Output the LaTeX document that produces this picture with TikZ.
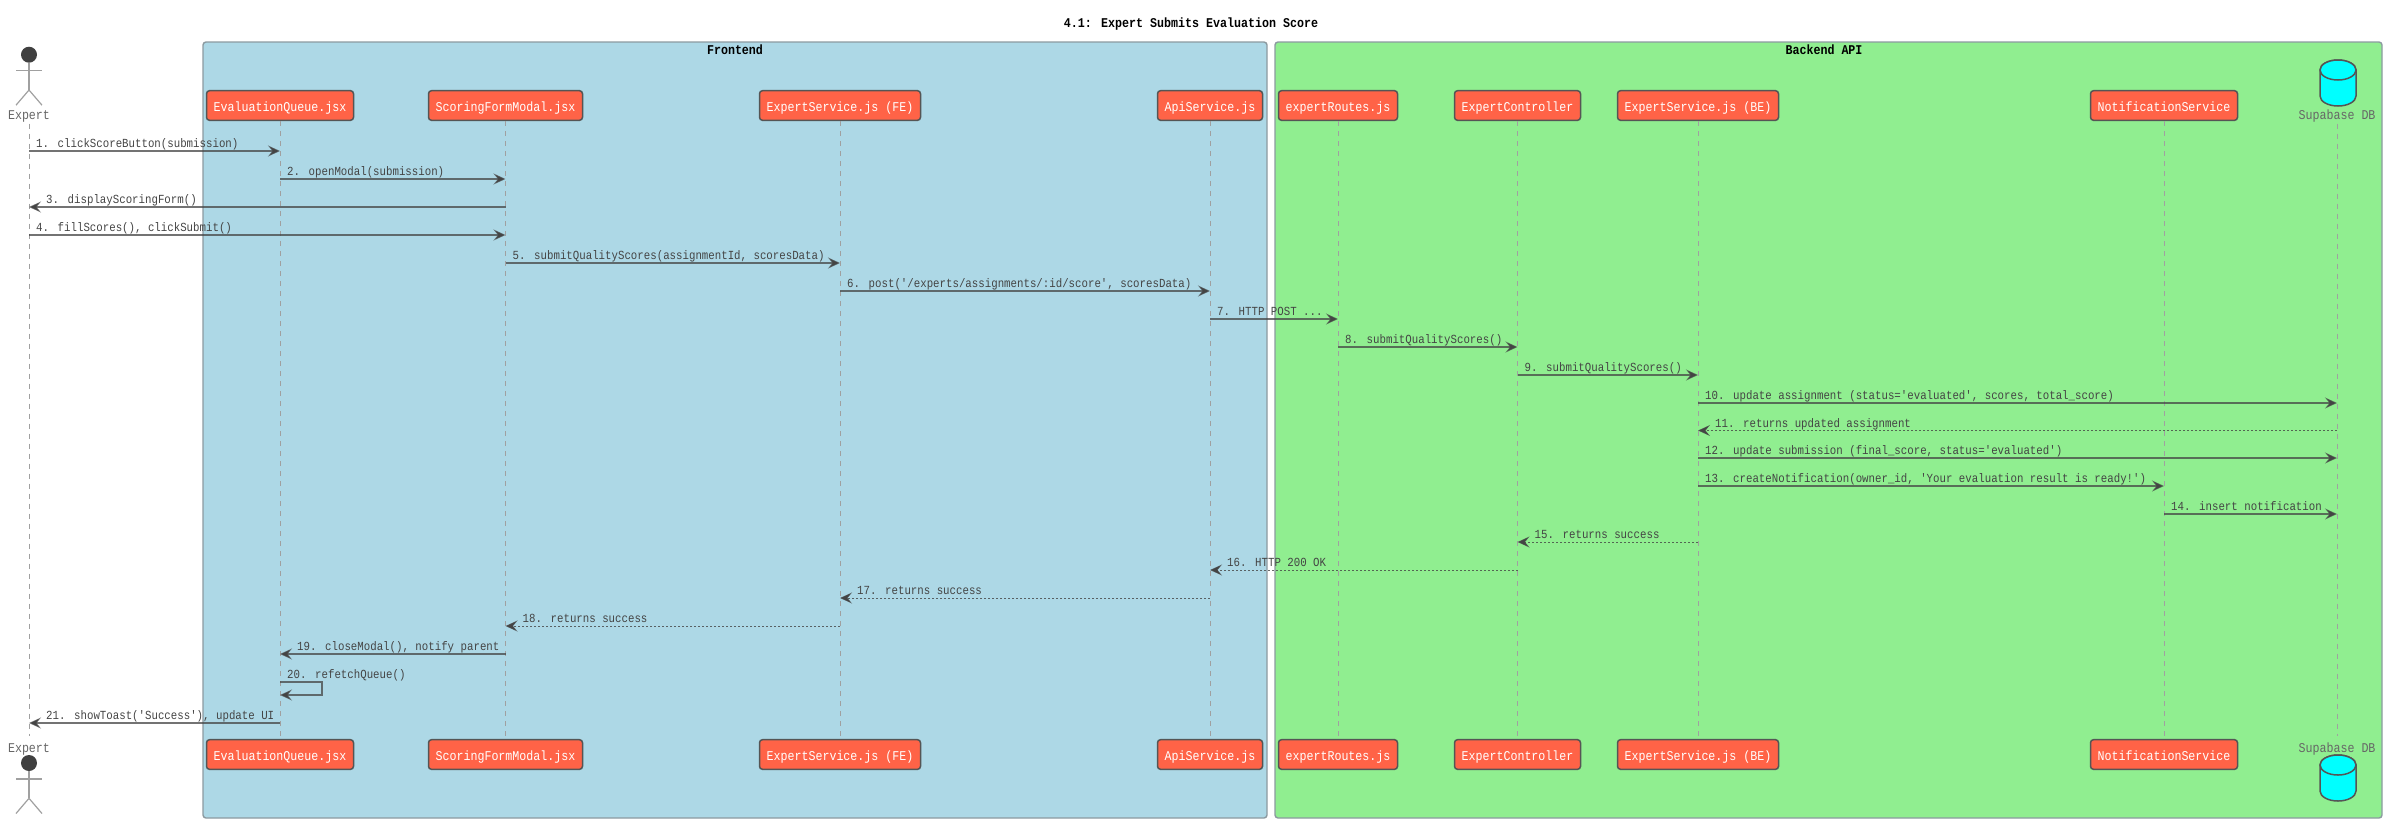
\documentclass[tikz,border=0pt]{standalone}
\usepackage{fontspec}
\usetikzlibrary{arrows.meta,calc}
\newfontfamily\partfont[FakeStretch=0.87]{Liberation Mono}
\definecolor{frontfill}{HTML}{ADD8E6}
\definecolor{backfill}{HTML}{90EE90}
\definecolor{tomatofill}{HTML}{FF6347}
\definecolor{cyanfill}{HTML}{00FFFF}
\definecolor{edgedark}{HTML}{555555}
\definecolor{framegray}{HTML}{8C9AA0}
\definecolor{lifegray}{HTML}{A0A0A0}
\definecolor{msgink}{HTML}{444444}
\tikzset{
  frameBox/.style={draw=framegray,line width=1.4pt,rounded corners=3pt},
  partBox/.style={draw=edgedark,line width=1.5pt,fill=tomatofill,rounded corners=3pt,text=white,minimum height=29.6pt,inner sep=0pt,text height=14pt,text depth=2pt,font=\partfont\fontsize{13.4}{15}\selectfont},
  plainLabel/.style={text=black!60,inner sep=0pt,text height=10pt,text depth=2pt,font=\partfont\fontsize{13.4}{15}\selectfont},
  titleLabel/.style={text=black,inner sep=0pt,font=\partfont\bfseries\fontsize{13.4}{15}\selectfont},
  msgLabel/.style={text=msgink,inner sep=0pt,anchor=base west,font=\partfont\fontsize{12.36}{14}\selectfont},
  lifeLine/.style={draw=lifegray,line width=1pt,dash pattern=on 5pt off 5pt},
  msgSolid/.style={draw=msgink,draw opacity=.75,line width=1.3pt,-{Stealth[length=12pt,width=11pt,inset=4.5pt,fill=msgink]}},
  msgDash/.style={draw=msgink,draw opacity=.8,line width=1pt,dash pattern=on 2pt off 2pt,-{Stealth[length=12pt,width=11pt,inset=4.5pt,fill=msgink]}},
  stick/.style={draw=lifegray,line width=1.2pt},
  cyl/.style={draw=edgedark,line width=1.5pt,fill=cyanfill}
}
\newcommand{\actorfig}[2]{%
  \fill[black!75] (#1,#2+8) circle [radius=8];
  \draw[stick] (#1,#2+16) -- (#1,#2+43.3);
  \draw[stick] (#1-13,#2+24) -- (#1+13,#2+24);
  \draw[stick] (#1-13,#2+58.5) -- (#1,#2+43.3) -- (#1+13,#2+58.5);
}
\newcommand{\dbfig}[2]{%
  \path[cyl] (#1-18,#2+10) arc [start angle=180,end angle=360,x radius=18,y radius=10] -- (#1+18,#2+36)
     arc [start angle=0,end angle=180,x radius=18,y radius=10] -- cycle;
  \path[cyl] (#1-18,#2+10) arc [start angle=180,end angle=-180,x radius=18,y radius=10];
}
\newcommand{\fwd}[5]{%
  \draw[msgSolid] (#2 |- 0,#4) -- (#3 |- 0,#4);
  \node[msgLabel] (lab#1) at ($(#2 |- 0,#4)+(7,-3.5)$) {#5};
}
\newcommand{\bck}[6][msgSolid]{%
  \draw[#1] (#3 |- 0,#5) -- (#4 |- 0,#5);
  \node[msgLabel] (lab#2) at ($(#4 |- 0,#5)+(17,-3.5)$) {#6};
}
\begin{document}
\begin{tikzpicture}[x=1pt,y=-1pt]
\useasboundingbox (0,0) rectangle (2388,823);
\node[titleLabel] (title) at (1191,24) {4.1: Expert Submits Evaluation Score};
\path[frameBox,fill=frontfill] (203,42) rectangle (1267,818);
\path[frameBox,fill=backfill] (1275,42) rectangle (2382,818);
\node[titleLabel] (frontTitle) at (735,50) {Frontend};
\node[titleLabel] (backTitle) at (1824,50) {Backend API};
% actor and database
\actorfig{29}{46.7}
\actorfig{29}{755}
\node[plainLabel] (expert) at (29,115.5) {Expert};
\node[plainLabel] (expertb) at (29,748) {Expert};
\dbfig{2338}{60}
\dbfig{2338}{755}
\node[plainLabel] (db) at (2337,115.5) {Supabase DB};
\node[plainLabel] (dbb) at (2337,748) {Supabase DB};
% participants
\foreach \n/\x/\w/\t in {
  eq/280/147/EvaluationQueue.jsx,
  sf/505.5/154/ScoringFormModal.jsx,
  fe/840/161/ExpertService.js (FE),
  api/1210/105/ApiService.js,
  routes/1338/119/expertRoutes.js,
  ctrl/1517.5/126/ExpertController,
  be/1698/161/ExpertService.js (BE),
  notif/2164/147/NotificationService}{
  \node[partBox,minimum width=\w pt] (\n) at (\x,105.5) {\t};
  \node[partBox,minimum width=\w pt] (\n b) at (\x,754.5) {\t};
  \draw[lifeLine] (\n.south) -- (\n b.north);
}
\draw[lifeLine] (expert.south) ++(0,2) -- (29,736);
\draw[lifeLine] (db.south) ++(0,2) -- (2337,736);
% messages
\fwd{1}{expert}{eq}{151}{1. clickScoreButton(submission)}
\fwd{2}{eq}{sf}{179}{2. openModal(submission)}
\bck{3}{sf}{expert}{207}{3. displayScoringForm()}
\fwd{4}{expert}{sf}{235}{4. fillScores(), clickSubmit()}
\fwd{5}{sf}{fe}{263}{5. submitQualityScores(assignmentId, scoresData)}
\fwd{6}{fe}{api}{291}{6. post('/experts/assignments/:id/score', scoresData)}
\fwd{7}{api}{routes}{319}{7. HTTP POST ...}
\fwd{8}{routes}{ctrl}{347}{8. submitQualityScores()}
\fwd{9}{ctrl}{be}{375}{9. submitQualityScores()}
\fwd{10}{be}{db}{403}{10. update assignment (status='evaluated', scores, total\_score)}
\bck[msgDash]{11}{db}{be}{430.5}{11. returns updated assignment}
\fwd{12}{be}{db}{458}{12. update submission (final\_score, status='evaluated')}
\fwd{13}{be}{notif}{486}{13. createNotification(owner\_id, 'Your evaluation result is ready!')}
\fwd{14}{notif}{db}{514}{14. insert notification}
\bck[msgDash]{15}{be}{ctrl}{542}{15. returns success}
\bck[msgDash]{16}{ctrl}{api}{570}{16. HTTP 200 OK}
\bck[msgDash]{17}{api}{fe}{598}{17. returns success}
\bck[msgDash]{18}{fe}{sf}{626}{18. returns success}
\bck{19}{sf}{eq}{654}{19. closeModal(), notify parent}
\draw[msgSolid] (eq |- 0,682) -- (322,682) -- (322,695) -- (eq |- 0,695);
\node[msgLabel] (lab20) at ($(eq |- 0,682)+(7,-3.5)$) {20. refetchQueue()};
\bck{21}{eq}{expert}{723}{21. showToast('Success'), update UI}
\end{tikzpicture}
\end{document}
